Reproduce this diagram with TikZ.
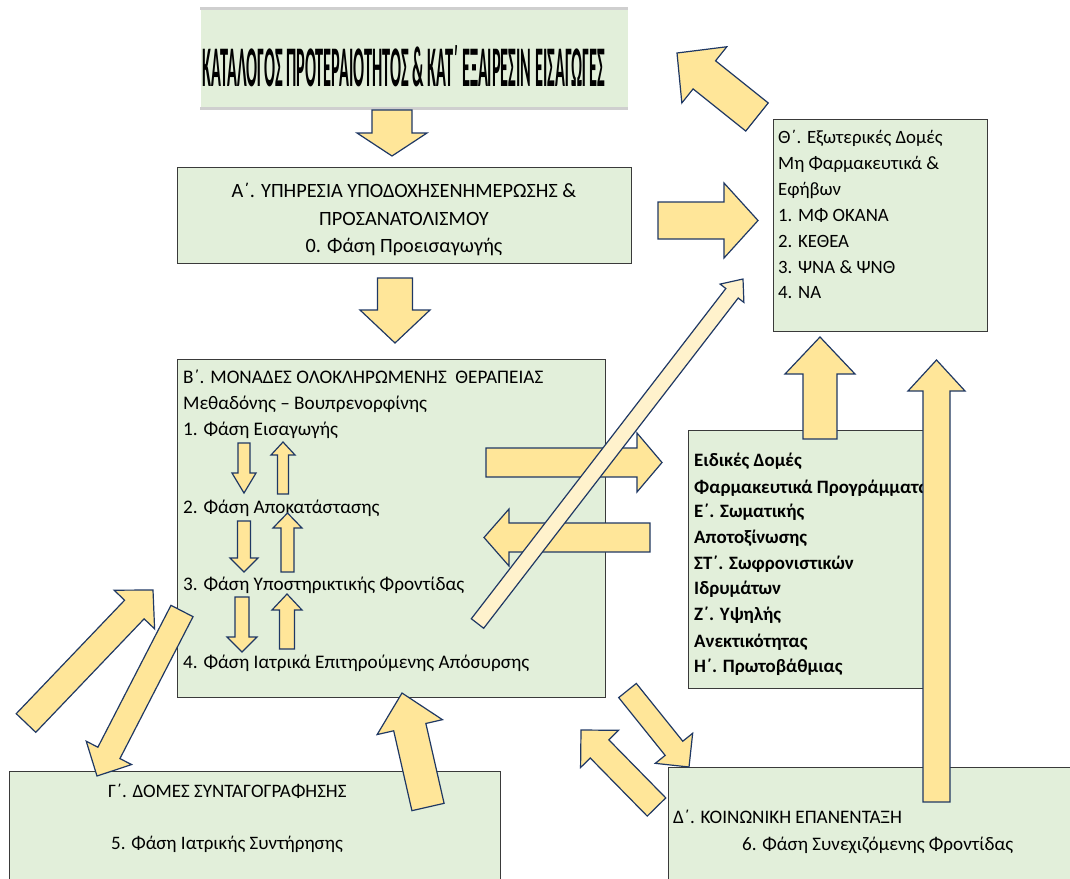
\documentclass[tikz,border=0pt]{standalone}
\usepackage{fontspec}
\usepackage{graphicx}
\setmainfont{Carlito}
\usetikzlibrary{calc}
\definecolor{boxfill}{HTML}{E2EFDA}
\definecolor{boxline}{HTML}{3A3A3A}
\definecolor{arrfill}{HTML}{FFE699}
\definecolor{arrline}{HTML}{1F3864}
\definecolor{creamfill}{HTML}{FFF2CC}
\definecolor{titleline}{HTML}{CFCFCF}
\newcommand\blockarrow[6][arrfill]{%
  \coordinate (ba-h) at ($(#3)!#6!(#2)$);
  \draw[blockarr, fill=#1]
    ($(#2)!#4!90:(#3)$) -- ($(ba-h)!#4!90:(#3)$) -- ($(ba-h)!#5!90:(#3)$) -- (#3)
    -- ($(ba-h)!#5!-90:(#3)$) -- ($(ba-h)!#4!-90:(#3)$) -- ($(#2)!#4!-90:(#3)$) -- cycle;
}
\tikzset{
  box/.style={draw=boxline, fill=boxfill, line width=1.3pt, inner sep=0pt, anchor=north west},
  blockarr/.style={draw=arrline, line width=1.2pt, line join=miter},
  txt/.style={inner sep=0pt, anchor=base west, text=black},
  ctxt/.style={inner sep=0pt, anchor=base, text=black},
  fA/.style={font=\fontsize{20.3}{24}\selectfont},
  fB/.style={font=\fontsize{19.2}{23}\selectfont},
  fT/.style={font=\fontsize{18.8}{22}\selectfont},
  fE/.style={font=\fontsize{18.9}{22}\selectfont\bfseries},
  fG/.style={font=\fontsize{19}{23}\selectfont},
  fD/.style={font=\fontsize{19.1}{23}\selectfont},
}
\begin{document}
\begin{tikzpicture}[x=1pt,y=-1pt]
\useasboundingbox (0,0) rectangle (1070,878);
\clip (0,0) rectangle (1070,878);
% boxes
\node[box, draw=none, minimum width=427pt, minimum height=99pt] (title) at (200,8) {};
\draw[titleline, line width=3pt] (title.north west) -- (title.north east);
\draw[titleline, line width=3pt] (title.south west) -- (title.south east);
\node[box, minimum width=454pt, minimum height=96pt] (A) at (177,167) {};
\node[box, minimum width=428pt, minimum height=338pt] (B) at (177,359) {};
\node[box, minimum width=214pt, minimum height=212pt] (T) at (773,119) {};
\node[box, minimum width=240pt, minimum height=258pt] (E) at (688,430) {};
\node[box, minimum width=491pt, minimum height=130pt] (G) at (9,771) {};
\node[box, minimum width=420pt, minimum height=130pt] (D) at (668,767) {};
% title text
\node[inner sep=0pt] (ttl) at (404,66) {\resizebox{402pt}{41pt}{\bfseries ΚΑΤΑΛΟΓΟΣ ΠΡΟΤΕΡΑΙΟΤΗΤΟΣ \& ΚΑΤ΄ ΕΞΑΙΡΕΣΙΝ ΕΙΣΑΓΩΓΕΣ}};
% A text
\node[ctxt, fA] (a1) at (404,197) {Α΄. ΥΠΗΡΕΣΙΑ ΥΠΟΔΟΧΗΣΕΝΗΜΕΡΩΣΗΣ \&};
\node[ctxt, fA] (a2) at (404,225) {ΠΡΟΣΑΝΑΤΟΛΙΣΜΟΥ};
\node[ctxt, fA] (a3) at (404,252) {0. Φάση Προεισαγωγής};
% B text
\node[txt, fB] (b1) at (183,383) {Β΄. ΜΟΝΑΔΕΣ ΟΛΟΚΛΗΡΩΜΕΝΗΣ\ \ ΘΕΡΑΠΕΙΑΣ};
\node[txt, fB] (b2) at (183,409) {Μεθαδόνης – Βουπρενορφίνης};
\node[txt, fB] (b3) at (183,435) {1. Φάση Εισαγωγής};
\node[txt, fB] (b4) at (183,513) {2. Φάση Αποκατάστασης};
\node[txt, fB] (b5) at (183,590) {3. Φάση Υποστηρικτικής Φροντίδας};
\node[txt, fB] (b6) at (183,668) {4. Φάση Ιατρικά Επιτηρούμενης Απόσυρσης};
% Theta text
\node[txt, fT] (t1) at (778,143) {Θ΄. Εξωτερικές Δομές};
\node[txt, fT] (t2) at (778,169) {Μη Φαρμακευτικά \&};
\node[txt, fT] (t3) at (778,195) {Εφήβων};
\node[txt, fT] (t4) at (778,221) {1. ΜΦ ΟΚΑΝΑ};
\node[txt, fT] (t5) at (778,247) {2. ΚΕΘΕΑ};
\node[txt, fT] (t6) at (778,273) {3. ΨΝΑ \& ΨΝΘ};
\node[txt, fT] (t7) at (778,298) {4. ΝΑ};
% special structures text
\node[txt, fE] (e1) at (694,466) {Ειδικές Δομές};
\node[txt, fE] (e2) at (694,493) {Φαρμακευτικά Προγράμματα};
\node[txt, fE] (e3) at (694,517) {Ε΄. Σωματικής};
\node[txt, fE] (e4) at (694,543) {Αποτοξίνωσης};
\node[txt, fE] (e5) at (694,569) {ΣΤ΄. Σωφρονιστικών};
\node[txt, fE] (e6) at (694,594) {Ιδρυμάτων};
\node[txt, fE] (e7) at (694,620) {Ζ΄. Υψηλής};
\node[txt, fE] (e8) at (694,647) {Ανεκτικότητας};
\node[txt, fE] (e9) at (694,672) {Η΄. Πρωτοβάθμιας};
% Gamma / Delta text
\node[txt, fG] (g1) at (108,797) {Γ΄. ΔΟΜΕΣ ΣΥΝΤΑΓΟΓΡΑΦΗΣΗΣ};
\node[txt, fG] (g2) at (111,849) {5. Φάση Ιατρικής Συντήρησης};
\node[txt, fD] (d1) at (673,823) {Δ΄. ΚΟΙΝΩΝΙΚΗ ΕΠΑΝΕΝΤΑΞΗ};
\node[txt, fD] (d2) at (742,850) {6. Φάση Συνεχιζόμενης Φροντίδας};
% arrow end points
\coordinate (r1s) at (392,110);   \coordinate (r1e) at (392,156);
\coordinate (r2s) at (395,278);   \coordinate (r2e) at (395,343);
\coordinate (r3s) at (658,220.5); \coordinate (r3e) at (758,220.5);
\coordinate (r4s) at (757,117);   \coordinate (r4e) at (677,53);
\coordinate (r5s) at (820,439);   \coordinate (r5e) at (820,337);
\coordinate (r6s) at (936.5,802); \coordinate (r6e) at (936.5,360);
\coordinate (r7s) at (486,462.5); \coordinate (r7e) at (662,462.5);
\coordinate (r8s) at (650,537.5); \coordinate (r8e) at (484,537.5);
\coordinate (r9s) at (477.5,623.5); \coordinate (r9e) at (743,279);
\coordinate (p1s) at (244,443);   \coordinate (p1e) at (244,493);
\coordinate (p2s) at (283,494);   \coordinate (p2e) at (283,442);
\coordinate (p3s) at (244,521);   \coordinate (p3e) at (244,572);
\coordinate (p4s) at (287.5,572); \coordinate (p4e) at (287.5,513);
\coordinate (p5s) at (242,597);   \coordinate (p5e) at (242,652);
\coordinate (p6s) at (287,649);   \coordinate (p6e) at (287,594);
\coordinate (q1s) at (26,723);    \coordinate (q1e) at (153,590);
\coordinate (q2s) at (182,611);   \coordinate (q2e) at (97,776);
\coordinate (q3s) at (428,807);   \coordinate (q3e) at (402,693);
\coordinate (q4s) at (627.5,690.5); \coordinate (q4e) at (689,767);
\coordinate (q5s) at (656.5,807); \coordinate (q5e) at (581,730);
% arrows
\blockarrow{r1s}{r1e}{20pt}{35pt}{23pt}
\blockarrow{r2s}{r2e}{17.5pt}{35pt}{33pt}
\blockarrow{r3s}{r3e}{18.5pt}{37.5pt}{34pt}
\blockarrow{r4s}{r4e}{18pt}{36pt}{35pt}
\blockarrow{r5s}{r5e}{17pt}{35pt}{37pt}
\blockarrow{r6s}{r6e}{13.5pt}{28.5pt}{31pt}
\blockarrow{r7s}{r7e}{14.5pt}{29.5pt}{25pt}
\blockarrow{r8s}{r8e}{14.5pt}{28.5pt}{25pt}
\blockarrow{p1s}{p1e}{6pt}{12pt}{20pt}
\blockarrow{p2s}{p2e}{5.5pt}{12pt}{13pt}
\blockarrow{p3s}{p3e}{6.5pt}{14pt}{14pt}
\blockarrow{p4s}{p4e}{6.5pt}{14.5pt}{15pt}
\blockarrow{p5s}{p5e}{7pt}{15pt}{15pt}
\blockarrow{p6s}{p6e}{7.5pt}{15pt}{16pt}
\blockarrow{q1s}{q1e}{13.5pt}{28pt}{27pt}
\blockarrow{q2s}{q2e}{12.4pt}{25.5pt}{26pt}
\blockarrow{q3s}{q3e}{16.5pt}{33.5pt}{35pt}
\blockarrow{q4s}{q4e}{11.3pt}{24pt}{24pt}
\blockarrow{q5s}{q5e}{13pt}{26.6pt}{26.5pt}
\blockarrow[creamfill]{r9s}{r9e}{7.8pt}{15pt}{18pt}
\end{tikzpicture}
\end{document}
